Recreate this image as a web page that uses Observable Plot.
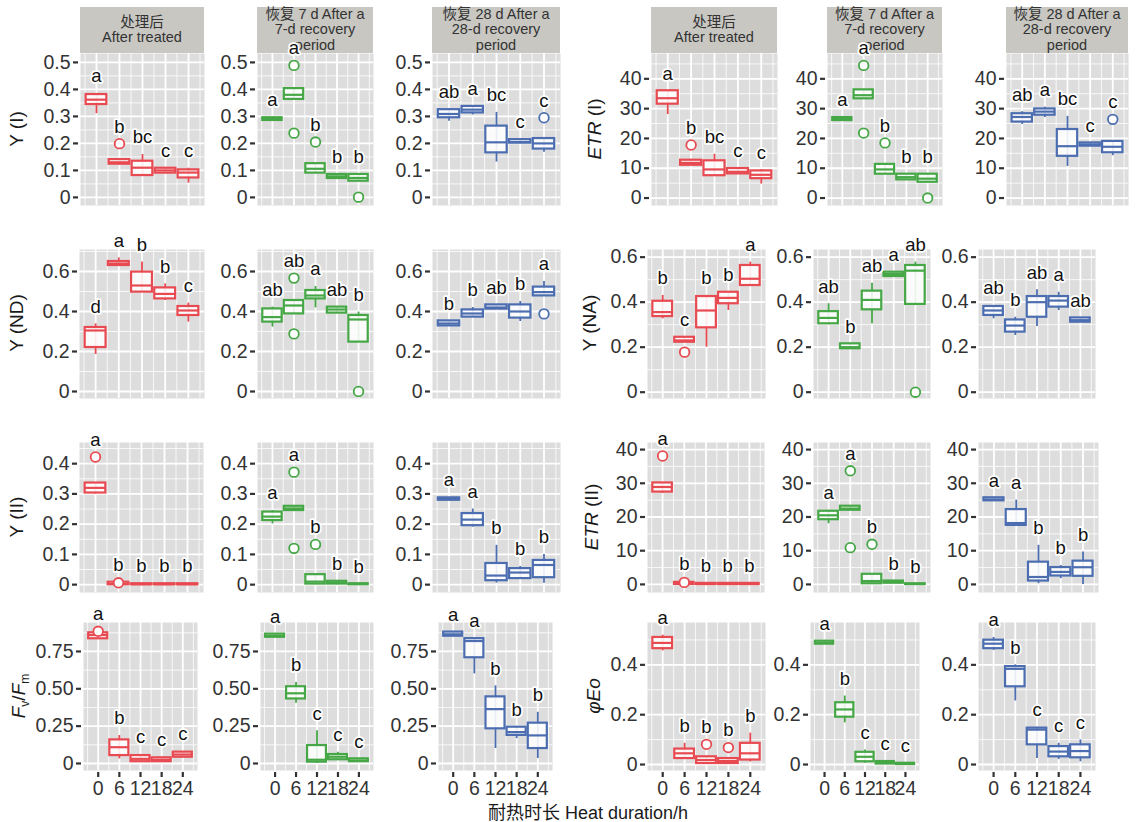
<!DOCTYPE html>
<html><head><meta charset="utf-8">
<script src="https://cdn.jsdelivr.net/npm/d3@7"></script>
<script src="https://cdn.jsdelivr.net/npm/@observablehq/plot@0.6"></script>
<style>
body{margin:0;background:#fff;}
#fig{position:relative;width:1138px;height:822px;overflow:hidden;font-family:"Liberation Sans",Arial,"Noto Sans CJK SC",sans-serif;}
.strip{position:absolute;background:#C8C7C2;color:#333;font-size:14.5px;line-height:15.5px;text-align:center;display:flex;flex-direction:column;justify-content:center;white-space:nowrap;}
.ytitle{position:absolute;transform:translate(-50%,-50%) rotate(-90deg);white-space:nowrap;font-size:19px;color:#1a1a1a;}
.xtitle{position:absolute;transform:translate(-50%,0);white-space:nowrap;font-size:18px;color:#1a1a1a;}
svg{overflow:visible;}
</style></head><body><div id="fig"></div>
<script>
// ---------------- data ----------------
const hours = [0, 6, 12, 18, 24];
const stageLabels = [["处理后", "After treated"], ["恢复 7 d After a", "7-d recovery", "period"], ["恢复 28 d After a", "28-d recovery", "period"]];
const stageColors = ["#E84A52", "#45A745", "#4C6EB1"];
const xTickLabels = ["0", "6", "12", "18", "24"];
const xTitle = "耐热时长 Heat duration/h";

// box stats per stage: [lo, q1, median, q3, hi] per heat duration
const yI_box = [
  [[0.31,0.344,0.362,0.381,0.385],[0.12,0.123,0.13,0.14,0.142],[0.08,0.081,0.11,0.134,0.159],[0.088,0.09,0.1,0.108,0.11],[0.053,0.072,0.092,0.102,0.108]],
  [[0.283,0.285,0.29,0.295,0.297],[0.363,0.363,0.38,0.403,0.403],[0.088,0.09,0.106,0.125,0.125],[0.068,0.07,0.078,0.085,0.087],[0.057,0.06,0.072,0.085,0.085]],
  [[0.282,0.295,0.309,0.325,0.327],[0.305,0.313,0.325,0.337,0.34],[0.131,0.165,0.204,0.264,0.315],[0.2,0.201,0.205,0.214,0.216],[0.167,0.179,0.2,0.218,0.218]]
];
const yI_out = [[[6,0.199]], [[6,0.489],[6,0.238],[12,0.205],[24,0.001]], [[24,0.295]]];
const yI_let = [["a","b","bc","c","c"], ["a","a","b","b","b"], ["ab","a","bc","c","c"]];

const etrI_box = [
  [[28,31.5,33.5,36,36],[11,11,11.8,12.7,12.7],[7.4,7.5,9.6,12.5,14.7],[8,8.1,8.8,9.9,10],[4.7,6.5,7.8,9.1,9.5]],
  [[25.9,26,26.5,27,27.2],[33.2,33.3,34.5,36.3,36.3],[7.9,8,9.6,11.3,11.3],[6,6.1,7,8,8.2],[5.2,5.3,6.5,8,8]],
  [[24.7,25.5,27.2,28.3,29],[27,27.8,29,29.9,30.5],[10.6,14,17.4,23,27.4],[17.3,17.4,18,18.5,18.6],[14.2,15.2,17.2,19,19]]
];
const etrI_out = [[[6,17.8]], [[6,44.5],[6,21.8],[12,18.5],[24,0]], [[24,26.4]]];
const etrI_let = [["a","b","bc","c","c"], ["a","a","b","b","b"], ["ab","a","bc","c","c"]];

const yND_box = [
  [[0.185,0.22,0.305,0.32,0.338],[0.63,0.63,0.64,0.65,0.668],[0.497,0.497,0.53,0.597,0.647],[0.455,0.463,0.488,0.518,0.538],[0.347,0.38,0.405,0.425,0.442]],
  [[0.322,0.347,0.372,0.413,0.422],[0.388,0.388,0.43,0.455,0.455],[0.418,0.463,0.48,0.505,0.525],[0.39,0.392,0.41,0.422,0.422],[0.247,0.247,0.36,0.38,0.397]],
  [[0.328,0.328,0.34,0.353,0.353],[0.372,0.372,0.39,0.408,0.42],[0.412,0.412,0.42,0.433,0.433],[0.35,0.367,0.4,0.433,0.45],[0.478,0.478,0.497,0.522,0.55]]
];
const yND_out = [[], [[6,0.567],[6,0.288],[24,0]], [[24,0.388]]];
const yND_let = [["d","a","b","b","c"], ["ab","ab","a","ab","b"], ["b","b","ab","b","a"]];

const yNA_box = [
  [[0.326,0.336,0.356,0.404,0.43],[0.222,0.222,0.23,0.244,0.244],[0.2,0.286,0.363,0.425,0.43],[0.363,0.393,0.419,0.444,0.445],[0.474,0.474,0.504,0.563,0.578]],
  [[0.3,0.304,0.33,0.358,0.393],[0.193,0.193,0.2,0.215,0.215],[0.304,0.366,0.41,0.449,0.484],[0.514,0.514,0.525,0.533,0.533],[0.39,0.39,0.54,0.563,0.578]],
  [[0.326,0.341,0.363,0.381,0.385],[0.252,0.267,0.296,0.321,0.333],[0.292,0.333,0.4,0.425,0.455],[0.363,0.378,0.407,0.425,0.444],[0.311,0.311,0.32,0.33,0.33]]
];
const yNA_out = [[[6,0.178]], [[24,0]], []];
const yNA_let = [["b","c","b","b","a"], ["ab","b","ab","a","ab"], ["ab","b","ab","a","ab"]];

const yII_box = [
  [[0.3,0.303,0.32,0.336,0.336],[0,0,0.002,0.008,0.01],[0,0,0.001,0.003,0.004],[0,0,0.001,0.003,0.004],[0,0,0.001,0.003,0.004]],
  [[0.201,0.212,0.225,0.24,0.245],[0.245,0.245,0.252,0.259,0.259],[0,0.002,0.01,0.033,0.033],[0,0.002,0.006,0.011,0.011],[0,0,0.002,0.003,0.003]],
  [[0.278,0.279,0.283,0.287,0.288],[0.19,0.195,0.215,0.235,0.25],[0.005,0.013,0.03,0.07,0.13],[0.02,0.02,0.04,0.053,0.06],[0.005,0.023,0.065,0.08,0.1]]
];
const yII_out = [[[0,0.422],[6,0.006]], [[6,0.372],[6,0.12],[12,0.133]], []];
const yII_let = [["a","b","b","b","b"], ["a","a","b","b","b"], ["a","a","b","b","b"]];

const etrII_box = [
  [[27,27.4,28.9,30.1,30.1],[0,0,0.2,0.6,1],[0,0,0.1,0.3,0.4],[0,0,0.1,0.3,0.4],[0,0,0.1,0.3,0.4]],
  [[18,19.2,20.5,21.7,22],[22,22,22.5,23.2,23.2],[0,0.2,1,3,3],[0.3,0.4,0.6,1,1],[0,0,0.1,0.2,0.2]],
  [[24.8,24.8,25.2,25.7,25.7],[17.5,17.5,18.2,22.2,25],[0.2,1,2.2,6.6,11.6],[1.7,2.5,3.7,5,5.6],[0,2.4,5.1,6.9,9.6]]
];
const etrII_out = [[[0,38.1],[6,0.6]], [[6,33.7],[6,10.9],[12,11.9]], []];
const etrII_let = [["a","b","b","b","b"], ["a","a","b","b","b"], ["a","a","b","b","b"]];

const fvfm_box = [
  [[0.83,0.835,0.86,0.875,0.88],[0.031,0.053,0.109,0.158,0.187],[0.01,0.012,0.031,0.053,0.06],[0.01,0.012,0.025,0.038,0.04],[0.04,0.042,0.06,0.076,0.08]],
  [[0.843,0.845,0.855,0.866,0.866],[0.403,0.432,0.47,0.514,0.543],[0,0.009,0.025,0.12,0.22],[0.02,0.025,0.045,0.06,0.076],[0.009,0.012,0.02,0.031,0.031]],
  [[0.852,0.852,0.865,0.88,0.88],[0.6,0.708,0.82,0.836,0.84],[0.1,0.232,0.364,0.446,0.52],[0.166,0.188,0.21,0.243,0.245],[0.033,0.1,0.188,0.27,0.343]]
];
const fvfm_out = [[[0,0.885]], [], []];
const fvfm_let = [["a","b","c","c","c"], ["a","b","c","c","c"], ["a","a","b","b","b"]];

const phiEo_box = [
  [[0.456,0.465,0.488,0.51,0.519],[0.02,0.024,0.045,0.062,0.085],[0.004,0.004,0.018,0.031,0.031],[0.004,0.004,0.014,0.024,0.024],[0.01,0.018,0.045,0.085,0.126]],
  [[0.483,0.483,0.489,0.495,0.495],[0.167,0.19,0.221,0.248,0.275],[0.005,0.011,0.031,0.049,0.058],[0,0.002,0.007,0.012,0.014],[0,0,0.003,0.005,0.005]],
  [[0.458,0.465,0.485,0.499,0.51],[0.255,0.312,0.384,0.393,0.4],[0.024,0.079,0.14,0.146,0.15],[0.02,0.031,0.052,0.072,0.085],[0.011,0.027,0.054,0.079,0.099]]
];
const phiEo_out = [[[12,0.081],[18,0.068]], [], []];
const phiEo_let = [["a","b","b","b","b"], ["a","b","c","c","c"], ["a","b","c","c","c"]];

// y-axis tick values
const ticksYI = [0,0.1,0.2,0.3,0.4,0.5];
const ticksETR = [0,10,20,30,40];
const ticksY6 = [0,0.2,0.4,0.6];
const ticksYII = [0,0.1,0.2,0.3,0.4];
const ticksFvFm = [0,0.25,0.5,0.75];
const ticksPhi = [0,0.2,0.4];

// ---------------- layout ----------------
const fmt1 = d => d === 0 ? "0" : d.toFixed(1);
const fmt0 = d => String(d);
const fmt2 = d => d === 0 ? "0" : d.toFixed(2);

const variables = [
  {box: yI_box, out: yI_out, lets: yI_let, ticks: ticksYI, fmt: fmt1, dom: [-0.03, 0.533], row: 0, side: 0, title: "Y (I)"},
  {box: etrI_box, out: etrI_out, lets: etrI_let, ticks: ticksETR, fmt: fmt0, dom: [-2.5, 48.5], row: 0, side: 1, title: "<i>ETR</i> (I)"},
  {box: yND_box, out: yND_out, lets: yND_let, ticks: ticksY6, fmt: fmt1, dom: [-0.035, 0.71], row: 1, side: 0, title: "Y (ND)"},
  {box: yNA_box, out: yNA_out, lets: yNA_let, ticks: ticksY6, fmt: fmt1, dom: [-0.028, 0.634], row: 1, side: 1, title: "Y (NA)"},
  {box: yII_box, out: yII_out, lets: yII_let, ticks: ticksYII, fmt: fmt1, dom: [-0.026, 0.47], row: 2, side: 0, title: "Y (II)"},
  {box: etrII_box, out: etrII_out, lets: etrII_let, ticks: ticksETR, fmt: fmt0, dom: [-2.4, 42.1], row: 2, side: 1, title: "<i>ETR</i> (II)"},
  {box: fvfm_box, out: fvfm_out, lets: fvfm_let, ticks: ticksFvFm, fmt: fmt2, dom: [-0.047, 0.944], row: 3, side: 0, title: "<i>F</i><sub style='font-size:12px'>v</sub>/<i>F</i><sub style='font-size:12px'>m</sub>"},
  {box: phiEo_box, out: phiEo_out, lets: phiEo_let, ticks: ticksPhi, fmt: fmt1, dom: [-0.024, 0.57], row: 3, side: 1, title: "<i>φEo</i>"}
];

const rowsY = [[53,205],[249,398],[442,592],[622,770]];
const colsX = [
  [[80,204],[257,373],[432,560],[651,777],[827,942],[1006,1128]],
  [[79,204],[257,373],[432,560],[647,765],[813,930],[978,1095]],
  [[79,203],[257,373],[432,560],[647,764],[813,930],[978,1098]],
  [[83,197],[260,373],[438,552],[647,765],[810,919],[978,1095]]
];
const titlePos = [[[17,129],[595,129]],[[17,323],[590,323]],[[17,517],[592,517]],[[20,696],[594,696]]];
const xDomain = [-4.17, 28.17];
const halfW = 2.7;

const fig = document.getElementById("fig");

// strips
for (let c = 0; c < 6; c++) {
  const [x0, x1] = colsX[0][c];
  const d = document.createElement("div");
  d.className = "strip";
  d.style.left = x0 + "px"; d.style.width = (x1 - x0) + "px";
  d.style.top = "7px"; d.style.height = "46px";
  d.innerHTML = stageLabels[c % 3].map(s => `<div>${s}</div>`).join("");
  fig.appendChild(d);
}

function minorTicks(ticks, dom) {
  const step = ticks[1] - ticks[0];
  const m = [];
  for (let i = -1; i < ticks.length; i++) {
    const v = (i < 0 ? ticks[0] - step : ticks[i]) + step / 2;
    if (v > dom[0] && v < dom[1]) m.push(v);
  }
  return m;
}

for (const v of variables) {
  for (let s = 0; s < 3; s++) {
    const col = v.side * 3 + s;
    const [x0, x1] = colsX[v.row][col];
    const [y0, y1] = rowsY[v.row];
    const showX = v.row === 3;
    const mL = 56, mR = 6, mT = 36, mB = showX ? 40 : 6;
    const color = stageColors[s];
    const rows = hours.map((h, i) => {
      const b = v.box[s][i];
      const outs = v.out[s].filter(o => o[0] === h).map(o => o[1]);
      return {h, lo: b[0], q1: b[1], med: b[2], q3: b[3], hi: b[4], top: Math.max(b[4], ...outs), letter: v.lets[s][i]};
    });
    const outs = v.out[s].map(([h, y]) => ({h, y}));
    const xMinor = minorTicks(hours, xDomain);
    const yMinor = minorTicks(v.ticks, v.dom);
    const marks = [
      Plot.frame({fill: "#DDDDDD", stroke: "none"}),
      Plot.gridY(yMinor, {stroke: "white", strokeOpacity: 1, strokeWidth: 0.8}),
      Plot.gridX(xMinor, {stroke: "white", strokeOpacity: 1, strokeWidth: 0.8}),
      Plot.gridY(v.ticks, {stroke: "white", strokeOpacity: 1, strokeWidth: 1.8}),
      Plot.gridX(hours, {stroke: "white", strokeOpacity: 1, strokeWidth: 1.8}),
      Plot.axisY(v.ticks, {tickFormat: v.fmt, tickSize: 5, tickPadding: 3, fontSize: 19.5, strokeWidth: 2.2, label: null, dx: -2}),
      Plot.ruleX(rows, {x: "h", y1: "lo", y2: "hi", stroke: color, strokeWidth: 1.8}),
      Plot.rect(rows, {x1: d => d.h - halfW, x2: d => d.h + halfW, y1: "q1", y2: "q3", fill: "white", fillOpacity: 0.88, stroke: color, strokeWidth: 2.2}),
      Plot.ruleY(rows, {y: "med", x1: d => d.h - halfW, x2: d => d.h + halfW, stroke: color, strokeWidth: 2.2}),
      Plot.dot(outs, {x: "h", y: "y", r: 4.8, stroke: color, fill: "white", strokeWidth: 1.8}),
      Plot.text(rows, {x: "h", y: "top", text: "letter", dy: -17, fontSize: 18.5, fill: "#111", stroke: "white", strokeWidth: 3.5})
    ];
    if (showX) marks.push(Plot.axisX(hours, {tickFormat: (d, i) => xTickLabels[i], tickSize: 5, tickPadding: 4, fontSize: 19.5, strokeWidth: 2.2, label: null, dy: 2}));
    const chart = Plot.plot({
      width: (x1 - x0) + mL + mR,
      height: (y1 - y0) + mT + mB,
      marginLeft: mL, marginRight: mR, marginTop: mT, marginBottom: mB,
      x: {domain: xDomain, axis: null, label: null},
      y: {domain: v.dom, axis: null, label: null},
      style: {background: "transparent", color: "#333", fontFamily: '"Liberation Sans", Arial, sans-serif', overflow: "visible"},
      marks
    });
    chart.style.position = "absolute";
    chart.style.left = (x0 - mL) + "px";
    chart.style.top = (y0 - mT) + "px";
    fig.appendChild(chart);
  }
  // y titles
  const [tx, ty] = titlePos[v.row][v.side];
  const t = document.createElement("div");
  t.className = "ytitle";
  t.style.left = tx + "px"; t.style.top = ty + "px";
  t.innerHTML = v.title;
  fig.appendChild(t);
}

const xt = document.createElement("div");
xt.className = "xtitle";
xt.style.left = "588px"; xt.style.top = "798px";
xt.textContent = xTitle;
fig.appendChild(xt);
</script></body></html>
